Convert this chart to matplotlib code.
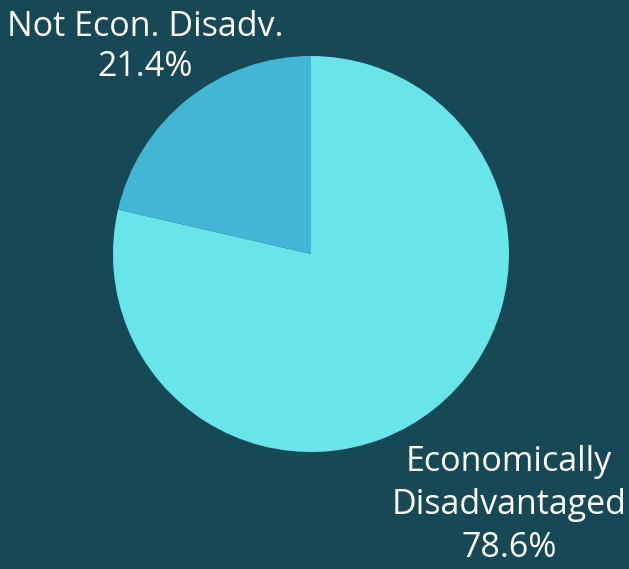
import matplotlib
matplotlib.use("Agg")
import matplotlib.pyplot as plt

plt.rcParams['font.family'] = ['Open Sans', 'DejaVu Sans']

categories = ["Economically\nDisadvantaged", "Not Econ. Disadv."]
shares = [78.6, 21.4]
colors = ["#67E5E9", "#42B7D5"]
bg = "#174856"

fig = plt.figure(figsize=(6.29, 5.69), dpi=100, facecolor=bg)
ax = fig.add_axes([0, 0, 1, 1])
ax.set_facecolor(bg)

# pie centered at pixel (311, 254), radius 198 px
r = 198
ax.pie(shares, colors=colors, startangle=90, counterclock=False,
       radius=1, wedgeprops=dict(linewidth=0))
ax.set_xlim(-311 / r, (629 - 311) / r)
ax.set_ylim(-(569 - 254) / r, 254 / r)
ax.set_aspect("equal")
ax.axis("off")

def px(x, y):
    return (x - 311) / r, (254 - y) / r

labels = [f"{c}\n{s:.1f}%" for c, s in zip(categories, shares)]
ax.text(*px(509, 505), labels[0], color="white", fontsize=24.5,
        ha="center", va="center", linespacing=1.35)
ax.text(*px(145, 47), labels[1], color="white", fontsize=24.5,
        ha="center", va="center", linespacing=1.2)

fig.savefig("out.png", dpi=100, facecolor=bg)
